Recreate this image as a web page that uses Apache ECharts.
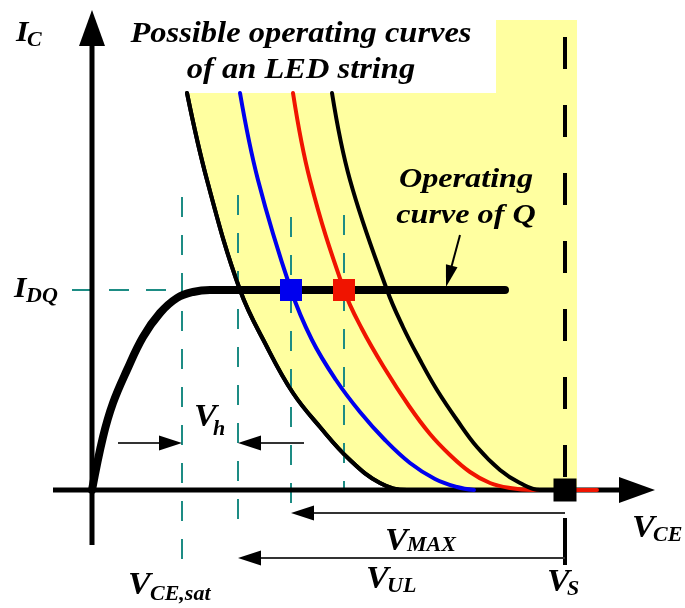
<!DOCTYPE html>
<html>
<head>
<meta charset="utf-8">
<script src="https://cdn.jsdelivr.net/npm/echarts@6/dist/echarts.min.js"></script>
<style>
html,body{margin:0;padding:0;background:#fff;}
#chart{width:685px;height:608px;}
</style>
</head>
<body>
<div id="chart"></div>
<script>
// ---- values (x = V_CE, y = I_C, arbitrary units; origin at axes crossing)
const curveA    = [[95,397],[115,310],[148,200],[175,143],[201,97],[228,63],[258,30],[288,7],[315,0],[340,0]];
const curveBlue = [[148,397],[166,310],[199,200],[220,150],[244,110],[268,78],[293,50],[318,27],[343,11],[365,3],[382,0]];
const curveRed  = [[201,397],[218,310],[252,200],[270,161],[293,121],[317,84],[338,56],[358,35],[378,18],[398,7],[418,2],[440,0],[505,0]];
const curveD    = [[240,397],[258,310],[295,200],[311,163],[328,130],[345,100],[365,70],[385,43],[408,20],[428,7],[448,0],[462,0]];
const curveQ    = [[0,0],[11,53],[21,87],[35,120],[51,153],[68,177],[85,192],[101,198],[118,200],[413,200]];
const yellowRegion = [[95,397],[404,397],[404,470],[485,470],[485,0]];

const I_DQ = 200;
const V_CE_SAT = 90, V_H_END = 146, V_BLUE = 199, V_RED = 252, V_S = 473;

// guide lines: [x, yTop, yBottom]
const tealVertical = [[V_CE_SAT,293,-77],[V_H_END,295,-37],[V_BLUE,273,-23],[V_RED,275,0]];
const tealHorizontal = [[-20,I_DQ],[V_CE_SAT,I_DQ]];
const vsDashed = [[V_S,453],[V_S,0]];
const vsSolid = [[V_S,-28],[V_S,-75]];

// arrows: [x1,y1,x2,y2] (tip at x2,y2)
const axisArrows = [[0,-55,0,480],[-39,0,563,0]];
const dimArrows = [[26,47,V_CE_SAT,47],[212,47,V_H_END,47],[V_S,-23,V_BLUE,-23],[V_S,-68,V_H_END,-68]];
const pointerArrow = [[368,255,354,203]];

const blueMark = [[V_BLUE,I_DQ]];
const redMark = [[V_RED,I_DQ]];
const vsMark = [[V_S,0]];

const TEAL = '#1d8c84';
const YELLOW = '#ffffa0';
const FONT = '"Liberation Serif","DejaVu Serif",serif';

function arrowSeries(data, opt){
  return {
    type:'custom', coordinateSystem:'cartesian2d', clip:false, silent:true, z: opt.z||5,
    data: data,
    renderItem: function(params, api){
      const p1 = api.coord([api.value(0), api.value(1)]);
      const p2 = api.coord([api.value(2), api.value(3)]);
      const dx = p2[0]-p1[0], dy = p2[1]-p1[1];
      const len = Math.sqrt(dx*dx+dy*dy);
      const ux = dx/len, uy = dy/len;
      const bx = p2[0]-ux*opt.headLen, by = p2[1]-uy*opt.headLen;
      const px = -uy*opt.headWid/2, py = ux*opt.headWid/2;
      return {type:'group', children:[
        {type:'line', shape:{x1:p1[0],y1:p1[1],x2:bx+ux*2,y2:by+uy*2}, style:{stroke:opt.lineColor, lineWidth:opt.lineWidth}},
        {type:'polygon', shape:{points:[[p2[0],p2[1]],[bx+px,by+py],[bx-px,by-py]]}, style:{fill:opt.headColor}}
      ]};
    }
  };
}

function curve(data, color, width, extra){
  return Object.assign({
    type:'line', data:data, smooth:0.4, showSymbol:false, silent:true,
    lineStyle:{color:color, width:width, cap:'round', join:'round'}, z:3
  }, extra||{});
}

const series = [
  {type:'line', data:yellowRegion, showSymbol:false, silent:true, lineStyle:{width:0,opacity:0},
   areaStyle:{color:YELLOW, opacity:1}, z:1},
  curve(curveA, '#000', 4, {areaStyle:{color:'#fff', opacity:1}, z:2}),
  {type:'line', data:tealHorizontal, showSymbol:false, silent:true, lineStyle:{color:TEAL, width:2, type:[20,17]}, z:2},
].concat(tealVertical.map(v => ({
  type:'line', data:[[v[0],v[1]],[v[0],v[2]]], showSymbol:false, silent:true,
  lineStyle:{color:TEAL, width:2, type:[20,18]}, z:2
}))).concat([
  {type:'line', data:vsDashed, showSymbol:false, silent:true, lineStyle:{color:'#000', width:4, type:[32,36]}, z:3},
  {type:'line', data:vsSolid, showSymbol:false, silent:true, lineStyle:{color:'#000', width:4}, z:3},
  arrowSeries(axisArrows, {headLen:36, headWid:26, lineWidth:5, lineColor:'#000', headColor:'#000', z:3}),
  curve(curveA, '#000', 4, {z:4}),
  curve(curveBlue, '#0000ee', 4, {z:4}),
  curve(curveRed, '#f01400', 4, {z:4}),
  curve(curveD, '#000', 4, {z:4}),
  curve(curveQ, '#000', 8, {z:5}),
  {type:'scatter', data:blueMark, symbol:'rect', symbolSize:22, itemStyle:{color:'#0000ee', opacity:1}, silent:true, z:6},
  {type:'scatter', data:redMark, symbol:'rect', symbolSize:22, itemStyle:{color:'#f01400', opacity:1}, silent:true, z:6},
  {type:'scatter', data:vsMark, symbol:'rect', symbolSize:23, itemStyle:{color:'#000', opacity:1}, silent:true, z:6},
  arrowSeries(dimArrows, {headLen:23, headWid:15, lineWidth:2, lineColor:'#333', headColor:'#000', z:6}),
  arrowSeries(pointerArrow, {headLen:22, headWid:12, lineWidth:2, lineColor:'#000', headColor:'#000', z:6})
]);

function txt(text, x, y, size, align, sx){
  return {type:'text', x:x, y:y, z:100, silent:true, scaleX: sx||1.1,
    style:{text:text, font:'italic bold '+size+'px '+FONT, fill:'#000',
           align:align||'left', verticalAlign:'middle'}};
}

const graphics = [
  txt('Possible operating curves', 301, 35, 29, 'center', 1.12),
  txt('of an LED string', 301, 71, 29, 'center', 1.12),
  txt('Operating', 466, 180, 28, 'center', 1.15),
  txt('curve of Q', 466, 216, 28, 'center', 1.15),
  txt('I', 16, 34, 29), txt('C', 27, 41, 20),
  txt('I', 14, 290, 29), txt('DQ', 26, 297, 20),
  txt('V', 128, 586, 31), txt('CE,sat', 150, 595, 20),
  txt('V', 366, 580, 31), txt('UL', 387, 587, 20),
  txt('V', 385, 542, 31), txt('MAX', 407, 546, 20),
  txt('V', 547, 583, 31), txt('S', 567, 590, 20),
  txt('V', 632, 529, 31), txt('CE', 653, 536, 20),
  txt('V', 194, 418, 31), txt('h', 213, 430, 20)
];

const chart = echarts.init(document.getElementById('chart'), null, {renderer:'canvas'});
chart.setOption({
  animation:false,
  backgroundColor:'#fff',
  grid:{left:0,right:0,top:0,bottom:0},
  xAxis:{type:'value', min:-92, max:593, show:false},
  yAxis:{type:'value', min:-118, max:490, show:false},
  series: series,
  graphic: graphics
});
</script>
</body>
</html>
